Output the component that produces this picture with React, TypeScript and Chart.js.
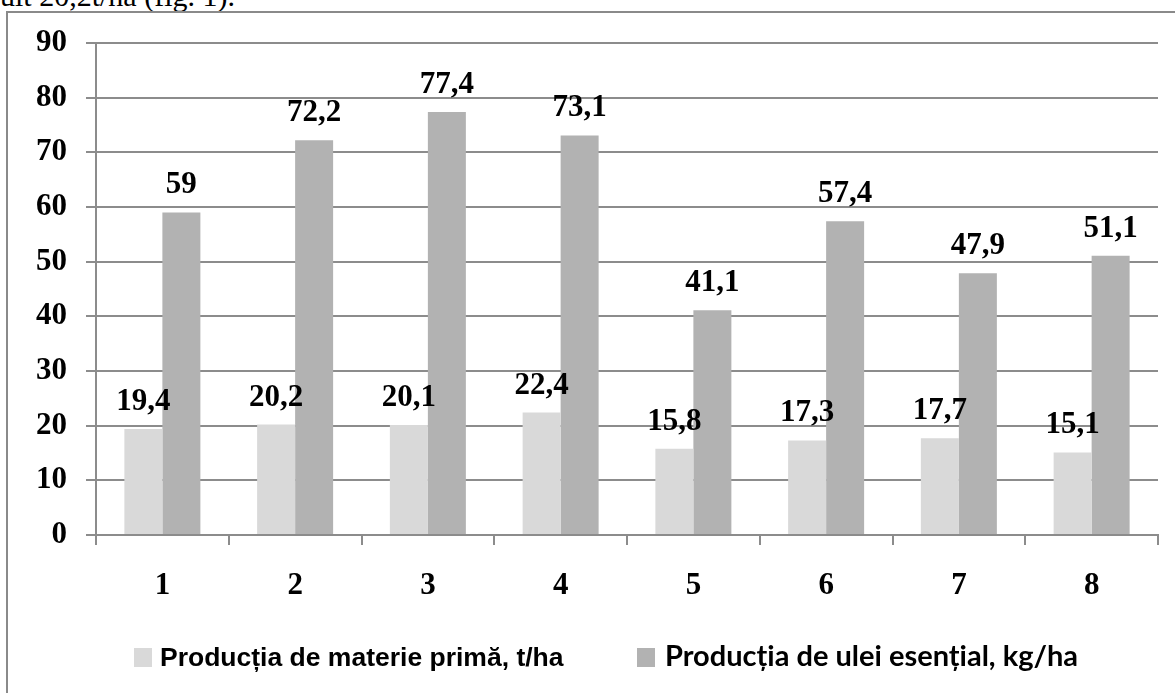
import React, { useEffect, useRef } from "react";
import { Chart, registerables } from "chart.js";

Chart.register(...registerables);

const categories = ["1", "2", "3", "4", "5", "6", "7", "8"];
const rawMaterial = [19.4, 20.2, 20.1, 22.4, 15.8, 17.3, 17.7, 15.1];
const essentialOil = [59, 72.2, 77.4, 73.1, 41.1, 57.4, 47.9, 51.1];
const seriesLabels = [
  "Producția de materie primă, t/ha",
  "Producția de ulei esențial, kg/ha",
];
const seriesColors = ["#d9d9d9", "#b2b2b2"];
const yMin = 0;
const yMax = 90;
const yStep = 10;
const captionText = "ult 20,2t/ha (fig. 1).";

const GRID = "#8c8c8c";
const SERIF = '"Liberation Serif", "Times New Roman", serif';

const valueLabels = {
  id: "valueLabels",
  afterDatasetsDraw(chart: any) {
    const ctx = chart.ctx;
    ctx.save();
    ctx.font = `bold 31px ${SERIF}`;
    ctx.fillStyle = "#000";
    ctx.textAlign = "center";
    ctx.textBaseline = "alphabetic";
    chart.data.datasets.forEach((ds: any, i: number) => {
      const meta = chart.getDatasetMeta(i);
      meta.data.forEach((bar: any, j: number) => {
        const v = ds.data[j];
        ctx.fillText(String(v).replace(".", ","), bar.x, bar.y - 19);
      });
    });
    ctx.restore();
  },
};

const frameAndLegend = {
  id: "frameAndLegend",
  afterDraw(chart: any) {
    const ctx = chart.ctx;
    ctx.save();
    // outer frame
    ctx.strokeStyle = "#8a8a8a";
    ctx.lineWidth = 2;
    ctx.beginPath();
    ctx.moveTo(7, 693);
    ctx.lineTo(7, 12);
    ctx.lineTo(1175, 12);
    ctx.stroke();
    // legend
    const items = [
      { box: 134, text: 160, font: 'bold 26.5px "Liberation Sans", Arial, sans-serif' },
      { box: 637, text: 665, font: "bold 29px Lato, sans-serif" },
    ];
    chart.data.datasets.forEach((ds: any, i: number) => {
      const it = items[i];
      ctx.fillStyle = ds.backgroundColor;
      ctx.fillRect(it.box, 648, 18, 19);
      ctx.fillStyle = "#000";
      ctx.font = it.font;
      ctx.textAlign = "left";
      ctx.textBaseline = "alphabetic";
      ctx.fillText(ds.label, it.text, 666);
    });
    ctx.restore();
  },
};

export default function App() {
  const canvasRef = useRef<HTMLCanvasElement | null>(null);

  useEffect(() => {
    if (!canvasRef.current) return;
    const chart = new Chart(canvasRef.current, {
      type: "bar",
      data: {
        labels: categories,
        datasets: [
          {
            label: seriesLabels[0],
            data: rawMaterial,
            backgroundColor: seriesColors[0],
            borderWidth: 0,
            categoryPercentage: 0.5725,
            barPercentage: 1,
          },
          {
            label: seriesLabels[1],
            data: essentialOil,
            backgroundColor: seriesColors[1],
            borderWidth: 0,
            categoryPercentage: 0.5725,
            barPercentage: 1,
          },
        ],
      },
      options: {
        animation: false,
        responsive: true,
        maintainAspectRatio: false,
        layout: { padding: { left: 0, top: 43, right: 17, bottom: 98 } },
        plugins: {
          legend: { display: false },
          tooltip: { enabled: false },
          title: { display: false },
        },
        scales: {
          x: {
            afterFit(scale: any) {
              scale.height = 60;
            },
            grid: {
              display: true,
              offset: true,
              drawOnChartArea: false,
              drawTicks: true,
              tickLength: 10,
              color: GRID,
              lineWidth: 2,
            },
            border: { display: true, color: GRID, width: 2 },
            ticks: {
              color: "#000",
              padding: 22,
              font: { family: SERIF, size: 31, weight: "bold" },
            },
          },
          y: {
            min: yMin,
            max: yMax,
            afterFit(scale: any) {
              scale.width = 96;
            },
            grid: {
              color: GRID,
              lineWidth: 2,
              drawTicks: true,
              tickLength: 10,
            },
            border: { display: true, color: GRID, width: 2 },
            ticks: {
              stepSize: yStep,
              color: "#000",
              padding: 19,
              font: { family: SERIF, size: 31, weight: "bold" },
            },
          },
        },
      },
      plugins: [valueLabels, frameAndLegend],
    });
    return () => chart.destroy();
  }, []);

  return (
    <div
      style={{
        position: "fixed",
        left: 0,
        top: 0,
        width: 1175,
        height: 693,
        overflow: "hidden",
        background: "#fff",
      }}
    >
      <div
        style={{
          position: "absolute",
          left: 0,
          top: -19,
          font: `30px ${SERIF}`,
          lineHeight: "30px",
          whiteSpace: "nowrap",
          color: "#000",
        }}
      >
        {captionText}
      </div>
      <div style={{ position: "absolute", left: 0, top: 0, width: 1175, height: 693 }}>
        <canvas ref={canvasRef} />
      </div>
    </div>
  );
}
